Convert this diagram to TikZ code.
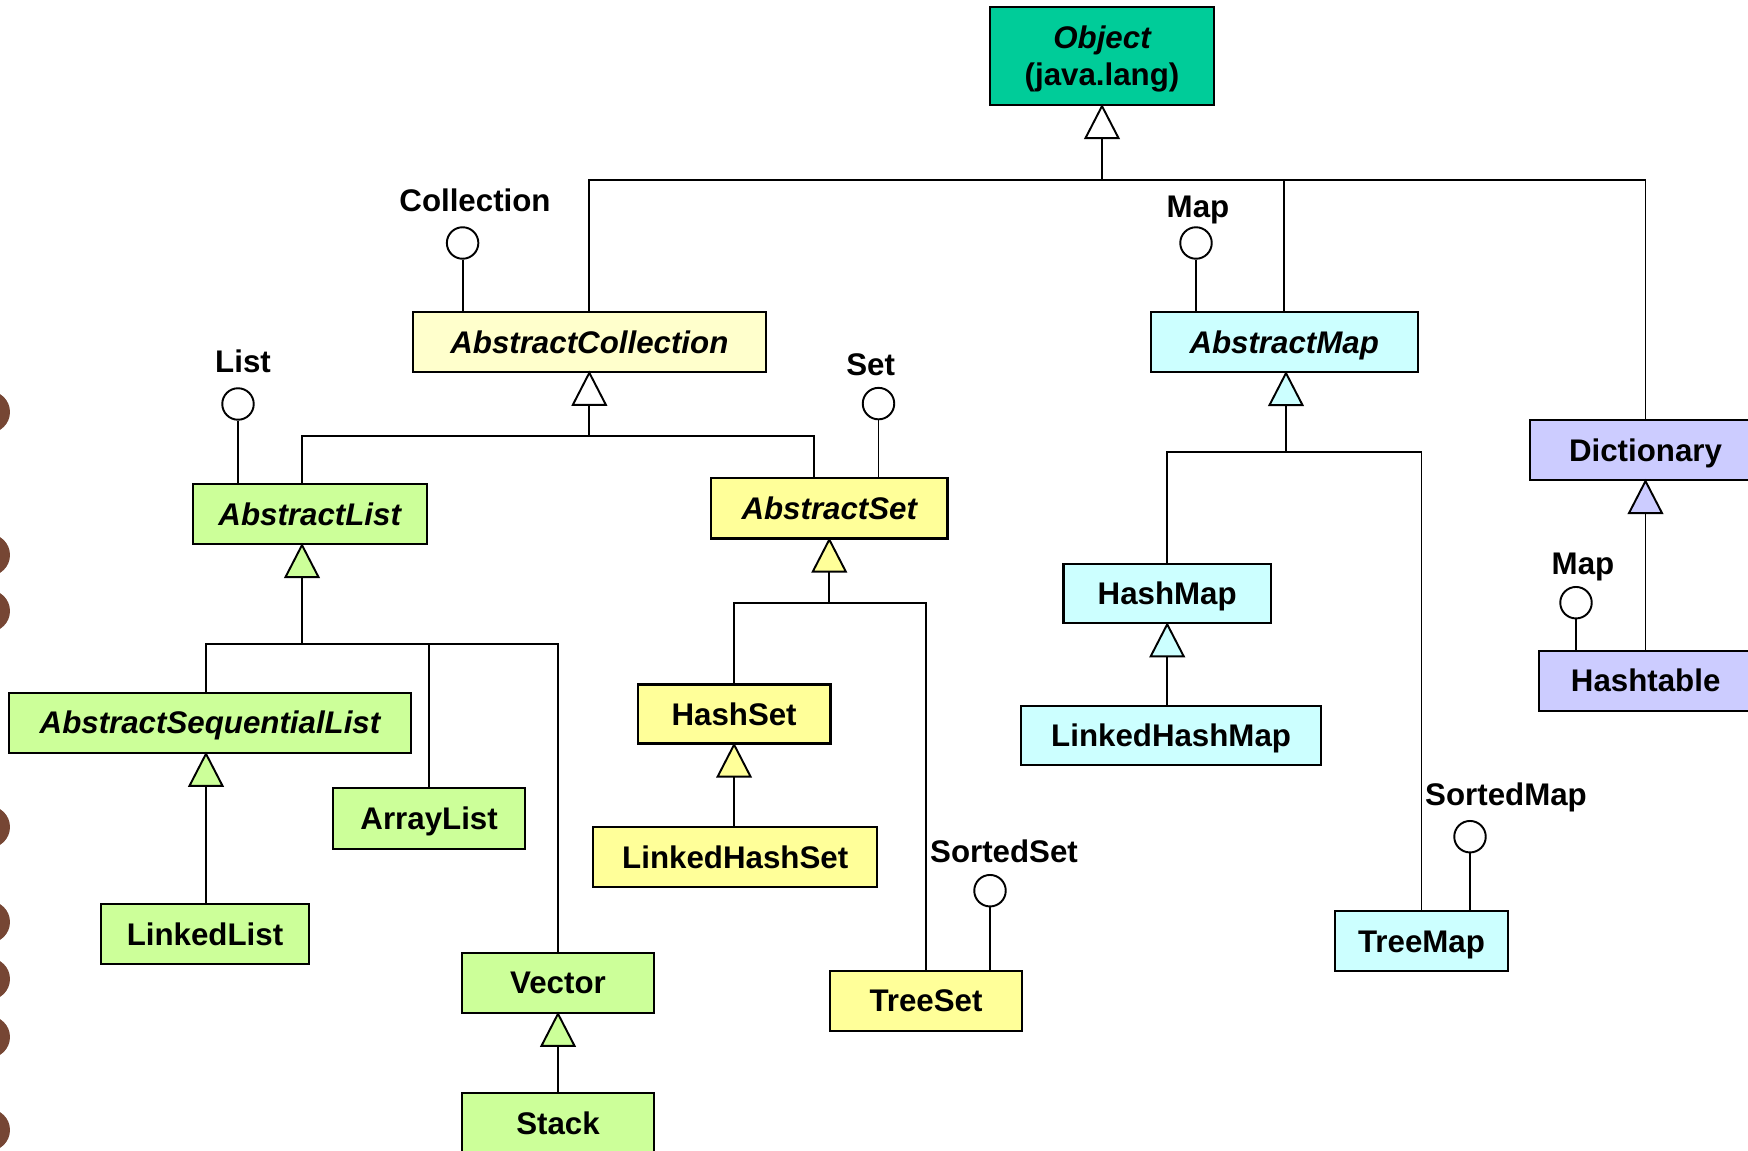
\documentclass[tikz,border=0pt]{standalone}
\usepackage{fontspec}
\setmainfont{Liberation Sans}

\definecolor{objfill}{RGB}{0,204,153}
\definecolor{collfill}{RGB}{255,255,204}
\definecolor{setfill}{RGB}{255,255,153}
\definecolor{listfill}{RGB}{204,255,153}
\definecolor{mapfill}{RGB}{204,255,255}
\definecolor{dictfill}{RGB}{204,204,255}
\definecolor{bead}{RGB}{118,70,52}

% one px of the drawing grid
\newcommand\pxlen{0.569056pt}
% class box: name, left, top, right, bottom, fill, text
\newcommand\klass[7]{%
  \node[cls, fill=#6, minimum width={(#4-#2)*\pxlen}, minimum height={(#5-#3)*\pxlen}]
    (#1) at ({(#2+#4)/2},{(#3+#5)/2}) {#7};}
% hollow generalisation triangle hanging below a class, apex at #1
\newcommand\gentri[2]{\filldraw[gen, fill=#2] (#1) -- ++(-16.5,32) -- ++(33,0) -- cycle;}

\begin{document}
\begin{tikzpicture}[x=0.02cm, y=-0.02cm,
  font=\fontsize{17.8}{21}\selectfont\bfseries,
  box/.style={draw, line width=1.25pt, inner sep=0pt},
  cls/.style={box, text height=12.75pt, text depth=0pt},
  link/.style={line width=1.1pt},
  gen/.style={line width=1.1pt, line join=miter},
  iface/.style={circle, draw, fill=white, line width=1.1pt, minimum size=0.63cm, inner sep=0pt},
  ilabel/.style={anchor=base, inner sep=0pt},
]
\useasboundingbox (0,0) rectangle (1748,1151);
\clip (0,0) rectangle (1748,1151);

% beads along the left margin
\foreach \yy in {412,555,611,827,922,979,1037,1130}
  \fill[bead] (-11,\yy) circle[radius=0.42cm];

% ---------------- classes ----------------
\node[box, fill=objfill, align=center, text height=33.75pt, text depth=0pt,
      minimum width={224*\pxlen}, minimum height={98.3*\pxlen}]
  (obj) at (1102,55.85) {{\itshape Object}\\(java.lang)};

\klass{acoll}{412.7}{312.3}{766}{371.7}{collfill}{\itshape AbstractCollection}
\klass{amap}{1150.7}{312.3}{1417.7}{372}{mapfill}{\itshape AbstractMap}
\klass{dict}{1530}{420}{1761}{480}{dictfill}{Dictionary}

\klass{alist}{192.7}{484}{426.7}{544}{listfill}{\itshape AbstractList}
\klass{aset}{711}{478}{947.6}{538.5}{setfill}{\itshape AbstractSet}

\klass{hmap}{1063.5}{564}{1270.9}{623.2}{mapfill}{HashMap}
\klass{lhmap}{1021.2}{705.7}{1321}{764.8}{mapfill}{LinkedHashMap}
\klass{tmap}{1335}{910.7}{1508}{971}{mapfill}{TreeMap}
\klass{htab}{1539.3}{650.7}{1752}{710.7}{dictfill}{Hashtable}

\klass{asl}{9.3}{692.7}{410.7}{752.7}{listfill}{\itshape AbstractSequentialList}
\klass{llist}{100.7}{904}{309.3}{964}{listfill}{LinkedList}
\klass{alst}{333.3}{788.3}{525}{848.7}{listfill}{ArrayList}
\klass{vec}{461.7}{952.7}{654.3}{1012.7}{listfill}{Vector}
\klass{stack}{461.7}{1093.3}{654.3}{1153.5}{listfill}{Stack}

\klass{hset}{637.7}{684.5}{830.5}{743.6}{setfill}{HashSet}
\klass{lhset}{593}{827.2}{877.4}{887.4}{setfill}{LinkedHashSet}
\klass{tset}{830}{970.7}{1022}{1030.7}{setfill}{TreeSet}

% ---------------- generalisation ----------------
% Object
\coordinate (obj-t) at (obj.south);
\gentri{obj-t}{white}
\coordinate (obj-bus) at (obj-t |- 0,180);
\draw[link] ([yshift=-0.64cm]obj-t) -- (obj-bus);
\draw[link] (acoll.north) |- (obj-bus);
\draw[link] (amap.north) |- (obj-bus);
\draw[link] (dict.north) |- (obj-bus);

% AbstractCollection
\coordinate (acoll-t) at (acoll.south);
\gentri{acoll-t}{white}
\coordinate (acoll-bus) at (acoll-t |- 0,436);
\draw[link] ([yshift=-0.64cm]acoll-t) -- (acoll-bus);
\draw[link] ([xshift=-0.154cm]alist.north) |- (acoll-bus);
\draw[link] ([xshift=-0.306cm]aset.north) |- (acoll-bus);

% AbstractList
\coordinate (alist-t) at ([xshift=-0.154cm]alist.south);
\gentri{alist-t}{listfill}
\coordinate (alist-bus) at (alist-t |- 0,644.4);
\draw[link] ([yshift=-0.64cm]alist-t) -- (alist-bus);
\draw[link] ([xshift=-0.08cm]asl.north) |- (alist-bus);
\draw[link] (alst.north) |- (alist-bus);
\draw[link] (vec.north) |- (alist-bus);

% AbstractSequentialList -> LinkedList
\coordinate (asl-t) at ([xshift=-0.08cm]asl.south);
\gentri{asl-t}{listfill}
\draw[link] ([yshift=-0.64cm]asl-t) -- (asl-t |- llist.north);

% Vector -> Stack
\coordinate (vec-t) at (vec.south);
\gentri{vec-t}{listfill}
\draw[link] ([yshift=-0.64cm]vec-t) -- (stack.north);

% AbstractSet
\coordinate (aset-t) at (aset.south);
\gentri{aset-t}{setfill}
\coordinate (aset-bus) at (aset-t |- 0,603);
\draw[link] ([yshift=-0.64cm]aset-t) -- (aset-bus);
\draw[link] (hset.north) |- (aset-bus);
\draw[link] (tset.north) |- (aset-bus);

% HashSet -> LinkedHashSet
\coordinate (hset-t) at (hset.south);
\gentri{hset-t}{setfill}
\draw[link] ([yshift=-0.64cm]hset-t) -- (hset-t |- lhset.north);

% AbstractMap
\coordinate (amap-t) at ([xshift=0.036cm]amap.south);
\gentri{amap-t}{mapfill}
\coordinate (amap-bus) at (amap-t |- 0,452.3);
\draw[link] ([yshift=-0.64cm]amap-t) -- (amap-bus);
\draw[link] (hmap.north) |- (amap-bus);
\draw[link] (tmap.north) |- (amap-bus);

% HashMap -> LinkedHashMap
\coordinate (hmap-t) at (hmap.south);
\gentri{hmap-t}{mapfill}
\draw[link] ([yshift=-0.64cm]hmap-t) -- (hmap-t |- lhmap.north);

% Dictionary -> Hashtable
\coordinate (dict-t) at (dict.south);
\gentri{dict-t}{dictfill}
\draw[link] ([yshift=-0.64cm]dict-t) -- (dict-t |- htab.north);

% ---------------- interfaces (lollipops) ----------------
\node[iface] (i-coll) at (462.6,243) {};
\node[ilabel] (l-coll) at (475,212) {Collection};
\draw[link] (i-coll.south) -- (i-coll.south |- acoll.north);

\node[iface] (i-map) at (1196,243) {};
\node[ilabel] (l-map) at (1198,218) {Map};
\draw[link] (i-map.south) -- (i-map.south |- amap.north);

\node[iface] (i-list) at (238,404) {};
\node[ilabel] (l-list) at (243,373) {List};
\draw[link] (i-list.south) -- (i-list.south |- alist.north);

\node[iface] (i-set) at (878.5,403.6) {};
\node[ilabel] (l-set) at (870.6,376) {Set};
\draw[link] (i-set.south) -- (i-set.south |- aset.north);

\node[iface] (i-sset) at (990,890.7) {};
\node[ilabel] (l-sset) at (1004,862.7) {SortedSet};
\draw[link] (i-sset.south) -- (i-sset.south |- tset.north);

\node[iface] (i-smap) at (1470,836.7) {};
\node[ilabel] (l-smap) at (1506,806) {SortedMap};
\draw[link] (i-smap.south) -- (i-smap.south |- tmap.north);

\node[iface] (i-hmap) at (1576,602.7) {};
\node[ilabel] (l-hmap) at (1583,575) {Map};
\draw[link] (i-hmap.south) -- (i-hmap.south |- htab.north);
\end{tikzpicture}
\end{document}
